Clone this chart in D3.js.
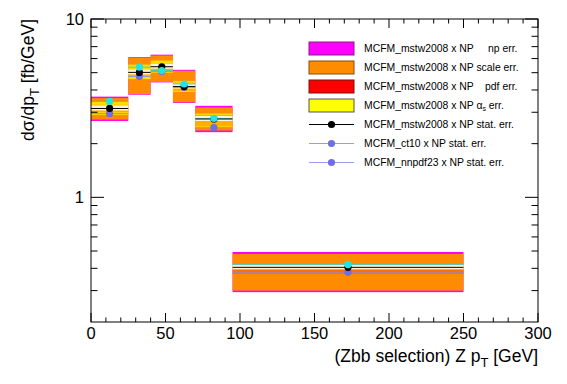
<!DOCTYPE html>
<html>
<head>
<meta charset="utf-8">
<script src="https://cdn.jsdelivr.net/npm/d3@7"></script>
<style>
  body { margin: 0; background: #fff; }
  text { font-family: "Liberation Sans", Arial, sans-serif; }
</style>
</head>
<body>
<script>
// bins in Z pT [GeV]
let binLo = [0, 25, 40, 55, 70, 95];
let binHi = [25, 40, 55, 70, 95, 250];

// central values (fb/GeV)
let mstw  = [3.15, 5.02, 5.40, 4.18, 2.75, 0.405];
let ct10  = [2.95, 4.76, 5.08, 4.13, 2.46, 0.380];
let nnpdf = [3.45, 5.37, 5.14, 4.32, 2.77, 0.420];
let mstwStat = [0.06, 0.12, 0.18, 0.08, 0.05, 0.008];

// uncertainty bands (lo / hi)
let npLo    = [2.68, 3.76, 4.41, 3.38, 2.32, 0.294];
let npHi    = [3.67, 6.11, 6.31, 5.19, 3.26, 0.494];
let scaleLo = [2.73, 3.79, 4.44, 3.41, 2.37, 0.300];
let scaleHi = [3.60, 6.05, 6.24, 5.13, 3.19, 0.481];
let pdfLo   = [3.00, 4.80, 5.15, 3.95, 2.50, 0.372];
let pdfHi   = [3.30, 5.25, 5.65, 4.40, 2.90, 0.400];
let asLo    = [2.90, 4.60, 5.00, 3.90, 2.45, 0.395];
let asHi    = [3.45, 5.55, 5.85, 4.50, 2.95, 0.415];

let xTicks = [0, 50, 100, 150, 200, 250, 300];
let yTicks = [1, 10];

let legendItems = [
  {label: 'MCFM_mstw2008 x NP     np err.', kind: 'box', fill: '#ff00ff', stroke: '#8a1a8a'},
  {label: 'MCFM_mstw2008 x NP scale err.', kind: 'box', fill: '#ff8c00', stroke: '#8a4a10'},
  {label: 'MCFM_mstw2008 x NP    pdf err.', kind: 'box', fill: '#ff0000', stroke: '#7a1010'},
  {label: 'alpha', kind: 'box', fill: '#ffff00', stroke: '#555'},
  {label: 'MCFM_mstw2008 x NP stat. err.', kind: 'pt', fill: '#000', line: '#000'},
  {label: 'MCFM_ct10 x NP stat. err.', kind: 'pt', fill: '#6f6fe0', line: '#9a9af0'},
  {label: 'MCFM_nnpdf23 x NP stat. err.', kind: 'pt', fill: '#6f6fe0', line: '#9a9af0'}
];

let width = 567, height = 384;
let L = 91, R = 538, T = 19, B = 322;

let svg = d3.select('body').append('svg')
            .attr('width', width)
            .attr('height', height);

let x = d3.scaleLinear().domain([0, 300]).range([L, R]);
let y = d3.scaleLog().domain([0.2, 10]).range([B, T]);

let bins = binLo.map((lo, i) => ({
  lo: lo, hi: binHi[i], c: mstw[i], ct: ct10[i], nn: nnpdf[i], st: mstwStat[i],
  npLo: npLo[i], npHi: npHi[i], scLo: scaleLo[i], scHi: scaleHi[i],
  pdLo: pdfLo[i], pdHi: pdfHi[i], aLo: asLo[i], aHi: asHi[i]
}));

let g = svg.append('g');

function band(lo, hi, fill, op) {
  g.selectAll(null).data(bins).enter().append('rect')
   .attr('x', d => x(d.lo))
   .attr('width', d => x(d.hi) - x(d.lo))
   .attr('y', d => y(d[hi]))
   .attr('height', d => y(d[lo]) - y(d[hi]))
   .attr('fill', fill)
   .attr('fill-opacity', op);
}
band('npLo', 'npHi', '#ff00ff', 1);
band('scLo', 'scHi', '#ff8c00', 1);
band('aLo', 'aHi', '#ffff00', 0.7);
band('pdLo', 'pdHi', '#ff0000', 0.2);

// white core around central values
g.selectAll(null).data(bins).enter().append('rect')
 .attr('x', d => x(d.lo))
 .attr('width', d => x(d.hi) - x(d.lo))
 .attr('y', d => y(d.c) - 3)
 .attr('height', 5)
 .attr('fill', '#fff')
 .attr('fill-opacity', 0.85);

// horizontal (bin-width) error lines
function hline(key, color, op) {
  g.selectAll(null).data(bins).enter().append('line')
   .attr('x1', d => x(d.lo)).attr('x2', d => x(d.hi))
   .attr('y1', d => y(d[key])).attr('y2', d => y(d[key]))
   .attr('stroke', color).attr('stroke-opacity', op).attr('stroke-width', 1);
}
hline('nn', '#30c8c8', 0.8);
hline('ct', '#8a8ae8', 0.8);
hline('c', '#000', 1);

// stat error bars for mstw
g.selectAll(null).data(bins).enter().append('line')
 .attr('x1', d => x((d.lo + d.hi) / 2)).attr('x2', d => x((d.lo + d.hi) / 2))
 .attr('y1', d => y(d.c - d.st)).attr('y2', d => y(d.c + d.st))
 .attr('stroke', '#000');

function dots(key, color) {
  g.selectAll(null).data(bins).enter().append('circle')
   .attr('cx', d => x((d.lo + d.hi) / 2))
   .attr('cy', d => y(d[key]))
   .attr('r', 3.6)
   .attr('fill', color);
}
dots('ct', '#6f6fe0');
dots('c', '#000');
dots('nn', '#22e4e4');

// frame
svg.append('rect')
   .attr('x', L).attr('y', T)
   .attr('width', R - L).attr('height', B - T)
   .attr('fill', 'none').attr('stroke', '#000').attr('stroke-width', 1);

// x ticks
let xMinor = d3.range(0, 301, 10);
let ax = svg.append('g');
xMinor.forEach(v => {
  let len = v % 50 === 0 ? 9 : 4.5;
  ax.append('line').attr('x1', x(v)).attr('x2', x(v)).attr('y1', B).attr('y2', B - len).attr('stroke', '#000');
  ax.append('line').attr('x1', x(v)).attr('x2', x(v)).attr('y1', T).attr('y2', T + len).attr('stroke', '#000');
});
ax.selectAll(null).data(xTicks).enter().append('text')
  .attr('x', d => x(d)).attr('y', 339)
  .attr('text-anchor', 'middle')
  .attr('font-size', 16.5)
  .text(d => d);

// y ticks
let yMinor = [0.3, 0.4, 0.5, 0.6, 0.7, 0.8, 0.9, 2, 3, 4, 5, 6, 7, 8, 9];
yMinor.concat(yTicks).forEach(v => {
  let len = yTicks.includes(v) ? 13 : 6.5;
  ax.append('line').attr('x1', L).attr('x2', L + len).attr('y1', y(v)).attr('y2', y(v)).attr('stroke', '#000');
  ax.append('line').attr('x1', R).attr('x2', R - len).attr('y1', y(v)).attr('y2', y(v)).attr('stroke', '#000');
});
ax.selectAll(null).data(yTicks).enter().append('text')
  .attr('x', 84).attr('y', d => y(d) + 6)
  .attr('text-anchor', 'end')
  .attr('font-size', 16.5)
  .text(d => d);

// axis titles
let xt = svg.append('text')
  .attr('x', R).attr('y', 362)
  .attr('text-anchor', 'end')
  .attr('font-size', 17.5);
xt.append('tspan').text('(Zbb selection) Z p');
xt.append('tspan').attr('font-size', 13).attr('dy', 5).text('T');
xt.append('tspan').attr('dy', -5).text(' [GeV]');

let yt = svg.append('text')
  .attr('transform', 'rotate(-90)')
  .attr('x', -T).attr('y', 34)
  .attr('text-anchor', 'end')
  .attr('font-size', 17.5);
yt.append('tspan').text('dσ/dp');
yt.append('tspan').attr('font-size', 13).attr('dy', 5).text('T');
yt.append('tspan').attr('dy', -5).text(' [fb/GeV]');

// legend
let lg = svg.append('g');
legendItems.forEach((it, i) => {
  let cy = 48.5 + i * 19;
  if (it.kind === 'box') {
    lg.append('rect').attr('x', 309).attr('y', cy - 6.5).attr('width', 45).attr('height', 13)
      .attr('fill', it.fill).attr('stroke', it.stroke).attr('stroke-width', 1);
  } else {
    lg.append('line').attr('x1', 309).attr('x2', 354).attr('y1', cy).attr('y2', cy)
      .attr('stroke', it.line);
    lg.append('circle').attr('cx', 331.5).attr('cy', cy).attr('r', 3.6).attr('fill', it.fill);
  }
  let t = lg.append('text').attr('x', 364).attr('y', cy + 3.8)
    .attr('font-size', 10.4).style('white-space', 'pre');
  if (it.label === 'alpha') {
    t.append('tspan').text('MCFM_mstw2008 x NP α');
    t.append('tspan').attr('font-size', 7).attr('dy', 2).text('s');
    t.append('tspan').attr('dy', -2).text(' err.');
  } else {
    t.text(it.label);
  }
});
</script>
</body>
</html>
